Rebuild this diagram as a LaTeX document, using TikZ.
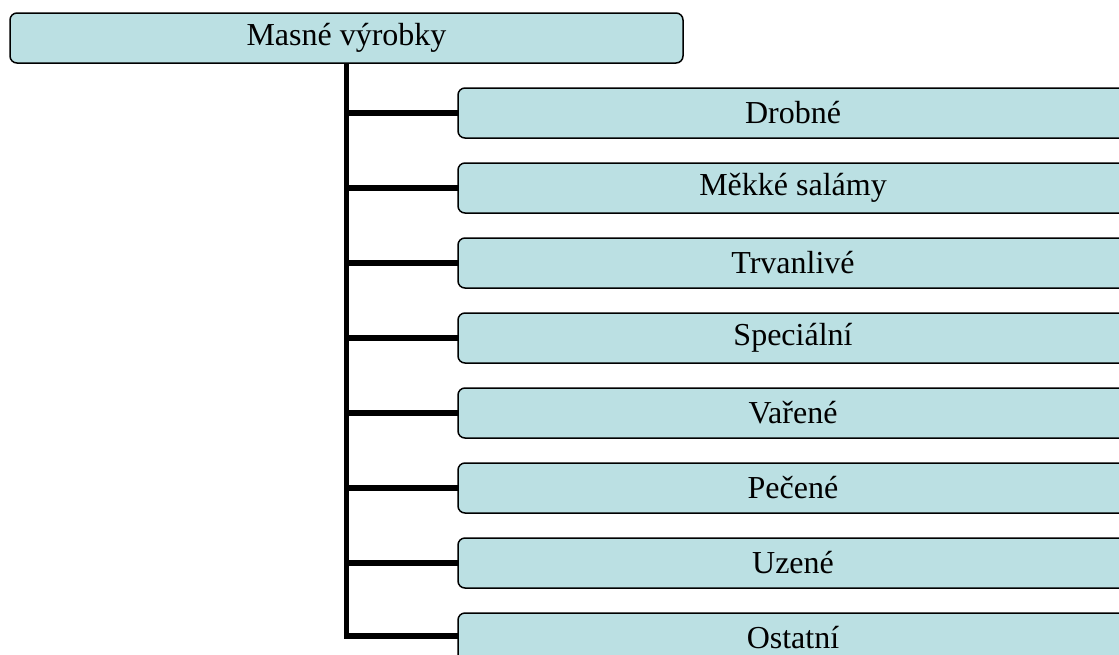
\documentclass[tikz,border=0pt]{standalone}
\usepackage{fontspec}
\setmainfont{Liberation Serif}
\definecolor{boxfill}{RGB}{187,224,227}
\begin{document}
\begin{tikzpicture}[x=1pt,y=-1pt,
  box/.style={draw=black, line width=1.5pt, fill=boxfill, rounded corners=7pt,
    minimum height=50pt, inner sep=0pt, font=\fontsize{32}{38}\selectfont},
  childbox/.style={box, minimum width=670pt},
  link/.style={line width=5.5pt}]
\useasboundingbox (0,0) rectangle (1119,654);
\clip (0,0) rectangle (1119,654);
% branch lines
\coordinate (trunktop) at (346.5,60);
\foreach \i/\y in {1/113,2/188,3/263,4/338,5/413,6/488,7/563}
  \draw[link] (trunktop |- 0,\y) -- (459,\y);
\draw[link] (trunktop) |- (459,636);
% root
\node[box, minimum width=673pt] (root) at (346.5,38) {Masné výrobky};
% categories
\node[childbox] (c1) at (793,113) {Drobné};
\node[childbox] (c2) at (793,188) {Měkké salámy};
\node[childbox] (c3) at (793,263) {Trvanlivé};
\node[childbox] (c4) at (793,338) {Speciální};
\node[childbox] (c5) at (793,413) {Vařené};
\node[childbox] (c6) at (793,488) {Pečené};
\node[childbox] (c7) at (793,563) {Uzené};
\node[childbox] (c8) at (793,638) {Ostatní};
\end{tikzpicture}
\end{document}
